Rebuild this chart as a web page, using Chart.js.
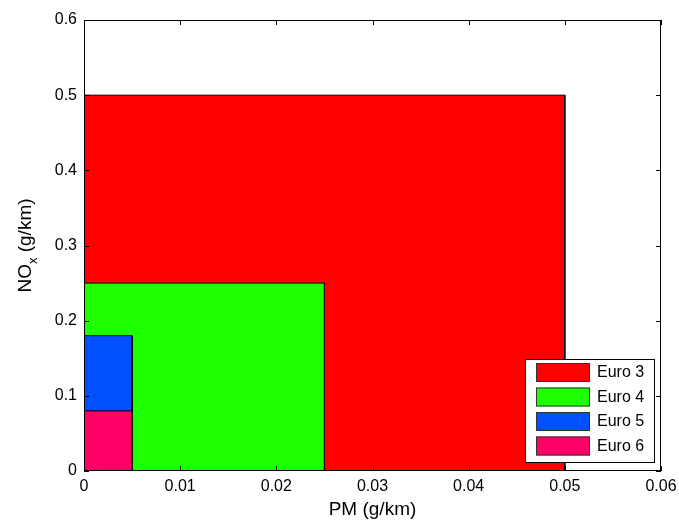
<!DOCTYPE html>
<html>
<head>
<meta charset="utf-8">
<script src="https://cdn.jsdelivr.net/npm/chart.js@4.4.0/dist/chart.umd.min.js"></script>
<style>
  html, body { margin: 0; padding: 0; background: #fff; }
  #wrap { width: 679px; height: 521px; }
</style>
</head>
<body>
<div id="wrap"><canvas id="chart"></canvas></div>
<script>
// emission standards: PM and NOx limits (g/km)
const standards = ['Euro 3', 'Euro 4', 'Euro 5', 'Euro 6']
const pmLimits = [0.05, 0.025, 0.005, 0.005]
const noxLimits = [0.5, 0.25, 0.18, 0.08]
const colors = ['#FF0000', '#1EFF00', '#0050FF', '#FF0066']
const xTicks = [0, 0.01, 0.02, 0.03, 0.04, 0.05, 0.06]
const yTicks = [0, 0.1, 0.2, 0.3, 0.4, 0.5, 0.6]

const FONT = 'Arial, "Liberation Sans", sans-serif'

const datasets = standards.map((name, i) => ({
  label: name,
  data: [
    {x: 0, y: 0},
    {x: 0, y: noxLimits[i]},
    {x: pmLimits[i], y: noxLimits[i]},
    {x: pmLimits[i], y: 0}
  ],
  showLine: true,
  fill: 'origin',
  backgroundColor: colors[i],
  borderColor: '#000',
  borderWidth: 1,
  pointRadius: 0,
  order: standards.length - i
}))

// frame, inward ticks, y title with subscript, legend box
const decor = {
  id: 'decor',
  afterDraw(chart) {
    const ctx = chart.ctx
    const ca = chart.chartArea
    const xs = chart.scales.x, ys = chart.scales.y
    ctx.save()
    ctx.strokeStyle = '#000'
    ctx.lineWidth = 1
    ctx.strokeRect(Math.round(ca.left) + 0.5, Math.round(ca.top) + 0.5,
      Math.round(ca.right - ca.left) - 1, Math.round(ca.bottom - ca.top) - 1)
    const tl = 5
    ctx.beginPath()
    xTicks.forEach(v => {
      const px = Math.round(xs.getPixelForValue(v)) + 0.5
      ctx.moveTo(px, ca.bottom); ctx.lineTo(px, ca.bottom - tl)
      ctx.moveTo(px, ca.top); ctx.lineTo(px, ca.top + tl)
    })
    yTicks.forEach(v => {
      const py = Math.round(ys.getPixelForValue(v)) + 0.5
      ctx.moveTo(ca.left, py); ctx.lineTo(ca.left + tl, py)
      ctx.moveTo(ca.right, py); ctx.lineTo(ca.right - tl, py)
    })
    ctx.stroke()

    // y axis title: NO_x (g/km)
    ctx.fillStyle = '#000'
    ctx.textBaseline = 'alphabetic'
    const big = '19px ' + FONT, small = '13px ' + FONT
    ctx.font = big
    const w1 = ctx.measureText('NO').width
    const w3 = ctx.measureText(' (g/km)').width
    ctx.font = small
    const w2 = ctx.measureText('x').width
    const total = w1 + w2 + w3
    ctx.translate(31, (ca.top + ca.bottom) / 2)
    ctx.rotate(-Math.PI / 2)
    let x0 = -total / 2
    ctx.font = big
    ctx.fillText('NO', x0, 0)
    ctx.font = small
    ctx.fillText('x', x0 + w1, 6)
    ctx.font = big
    ctx.fillText(' (g/km)', x0 + w1 + w2, 0)
    ctx.setTransform(1, 0, 0, 1, 0, 0)

    // legend
    const lw = 129, lh = 103
    const lx = Math.round(ca.right) - 7 - lw, ly = Math.round(ca.bottom) - 9 - lh
    ctx.fillStyle = '#fff'
    ctx.fillRect(lx, ly, lw, lh)
    ctx.strokeRect(lx + 0.5, ly + 0.5, lw, lh)
    ctx.font = '16px ' + FONT
    ctx.textBaseline = 'middle'
    chart.data.datasets.forEach((ds, i) => {
      const ry = ly + 4 + i * 24.5
      ctx.fillStyle = ds.backgroundColor
      ctx.fillRect(lx + 11, ry, 54, 19)
      ctx.strokeStyle = '#333'
      ctx.strokeRect(lx + 11.5, ry + 0.5, 53, 18)
      ctx.fillStyle = '#000'
      ctx.fillText(ds.label, lx + 72, ry + 10)
    })
    ctx.restore()
  }
}

new Chart(document.getElementById('chart'), {
  type: 'scatter',
  data: { datasets: datasets },
  options: {
    responsive: true,
    maintainAspectRatio: false,
    animation: false,
    layout: { padding: { left: 0, right: 18, top: 20, bottom: 0 } },
    plugins: {
      legend: { display: false },
      tooltip: { enabled: false }
    },
    scales: {
      x: {
        type: 'linear',
        min: 0, max: 0.06,
        afterFit: s => { s.height = 50; s.paddingLeft = 0; s.paddingRight = 0 },
        afterBuildTicks: s => { s.ticks = xTicks.map(v => ({value: v})) },
        grid: { display: false, drawTicks: false },
        border: { display: false },
        ticks: {
          padding: 6,
          color: '#000',
          font: { family: FONT, size: 16 },
          callback: v => String(Number(v.toFixed(2)))
        },
        title: {
          display: true,
          text: 'PM (g/km)',
          color: '#000',
          font: { family: FONT, size: 19 },
          padding: { top: 0, bottom: 0 }
        }
      },
      y: {
        type: 'linear',
        min: 0, max: 0.6,
        afterFit: s => { s.width = 84; s.paddingTop = 0; s.paddingBottom = 0 },
        afterBuildTicks: s => { s.ticks = yTicks.map(v => ({value: v})) },
        grid: { display: false, drawTicks: false },
        border: { display: false },
        ticks: {
          padding: 7,
          color: '#000',
          font: { family: FONT, size: 16 },
          callback: v => String(Number(v.toFixed(1)))
        }
      }
    }
  },
  plugins: [decor]
})
</script>
</body>
</html>
